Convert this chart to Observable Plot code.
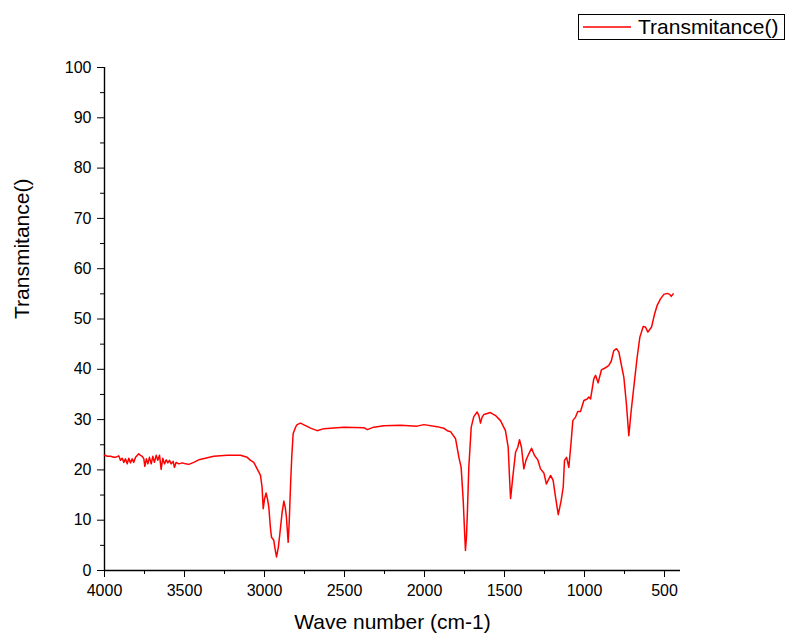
<!DOCTYPE html>
<html>
<head>
<meta charset="utf-8">
<script src="https://cdn.jsdelivr.net/npm/d3@7"></script>
<script src="https://cdn.jsdelivr.net/npm/@observablehq/plot@0.6"></script>
<style>
  html, body { margin: 0; padding: 0; background: #fff; }
  #wrap { position: relative; width: 786px; height: 639px; font-family: "Liberation Sans", Arial, sans-serif; }
  #legend { position: absolute; left: 578px; top: 14px; width: 205px; height: 24px; border: 1px solid #000; background: #fff; box-sizing: content-box; }
  #legend svg { position: absolute; left: 4px; top: 0; }
  #legend span { position: absolute; left: 59px; top: 0px; font-size: 21px; line-height: 24px; color: #000; white-space: nowrap; }
</style>
</head>
<body>
<div id="wrap">
  <div id="chart"></div>
  <div id="legend"><svg width="50" height="24"><line x1="0" x2="48" y1="12" y2="12" stroke="red" stroke-width="1.5"></line></svg><span id="legendText"></span></div>
</div>
<script>
const seriesName = "Transmitance()";
const xLabel = "Wave number (cm-1)";
const yLabel = "Transmitance()";
const xMajorTicks = [4000, 3500, 3000, 2500, 2000, 1500, 1000, 500];
const xMinorTicks = [3750, 3250, 2750, 2250, 1750, 1250, 750];
const yMajorTicks = [0, 10, 20, 30, 40, 50, 60, 70, 80, 90, 100];
const yMinorTicks = [5, 15, 25, 35, 45, 55, 65, 75, 85, 95];

const wavenumber = [
  4000, 3994, 3983, 3962, 3942, 3931, 3911, 3900, 3889, 3879, 3869, 3858, 3848, 3838, 3827, 3817, 3806,
  3786, 3775, 3764, 3754, 3748, 3738, 3729, 3719, 3708, 3698, 3688, 3677, 3667, 3656, 3646, 3636, 3625,
  3614, 3604, 3594, 3583, 3571, 3563, 3552, 3536, 3514, 3494, 3473, 3442, 3411, 3370, 3317, 3233, 3150,
  3108, 3087, 3067, 3046, 3025, 3015, 3008, 3000, 2990, 2980, 2973, 2963, 2956, 2942, 2935, 2925, 2914,
  2904, 2890, 2879, 2870, 2863, 2852, 2845, 2837, 2829, 2821, 2806, 2796, 2775, 2744, 2712, 2671, 2629,
  2504, 2379, 2358, 2317, 2254, 2150, 2046, 2004, 1921, 1880, 1858, 1837, 1806, 1785, 1771, 1758, 1750,
  1744, 1738, 1733, 1723, 1708, 1692, 1671, 1660, 1650, 1640, 1629, 1588, 1556, 1525, 1494, 1477, 1468,
  1462, 1446, 1431, 1417, 1406, 1394, 1379, 1365, 1348, 1331, 1313, 1292, 1275, 1254, 1238, 1212, 1196,
  1181, 1164, 1146, 1133, 1125, 1112, 1098, 1083, 1073, 1056, 1042, 1025, 1004, 983, 973, 962, 942, 931,
  915, 894, 869, 848, 833, 817, 800, 785, 771, 754, 738, 723, 708, 692, 671, 654, 633, 619, 604, 581, 562,
  546, 525, 504, 483, 467, 458, 446
];
const transmitance = [
  22.9, 22.9, 22.7, 22.7, 22.5, 22.5, 22.8, 21.9, 22.3, 21.5, 22.2, 21.2, 22.3, 21.4, 22.2, 21.5, 22.5,
  23.2, 22.9, 22.7, 22.2, 20.7, 22.2, 21.2, 22.5, 21.2, 22.7, 21.5, 22.9, 21.9, 22.9, 20.1, 22.3, 21.2,
  22.0, 21.4, 21.9, 21.2, 21.7, 20.5, 21.5, 21.2, 21.4, 21.2, 21.1, 21.5, 22.0, 22.3, 22.7, 22.9, 22.9,
  22.5, 21.9, 21.5, 20.2, 18.9, 16.5, 12.3, 14.2, 15.4, 14.0, 12.6, 8.5, 6.6, 6.0, 4.5, 2.7, 4.5,
  7.3, 11.5, 13.8, 12.5, 10.6, 5.6, 10.0, 17.2, 23.0, 27.2, 28.5, 29.0, 29.3, 28.8, 28.3, 27.8, 28.2,
  28.5, 28.4, 28.0, 28.5, 28.8, 28.9, 28.7, 29.0, 28.6, 28.3, 27.8, 27.6, 26.2, 22.5, 20.5, 13.9, 8.0,
  4.0, 6.5, 10.6, 20.5, 28.5, 30.6, 31.5, 30.8, 29.3, 30.5, 31.0, 31.4, 30.8, 29.8, 27.8, 24.5, 18.0,
  14.3, 19.2, 23.5, 24.5, 26.0, 24.5, 20.2, 22.0, 23.2, 24.3, 22.9, 22.0, 20.2, 19.4, 17.2, 18.9, 17.9,
  14.6, 11.1, 13.9, 16.6, 21.9, 22.5, 20.5, 25.8, 29.8, 30.5, 31.6, 31.6, 33.8, 34.1, 34.5, 34.1, 38.1, 38.8,
  37.3, 39.9, 40.3, 40.8, 41.6, 43.7, 44.1, 43.4, 41.1, 38.4, 33.1, 26.8, 31.8, 36.4, 42.4, 46.4, 48.5, 48.4, 47.4, 48.4, 51.0,
  52.7, 54.0, 54.9, 55.1, 54.9, 54.5, 55.0
];

const data = wavenumber.map((w, i) => ({wn: w, t: transmitance[i]}));

document.getElementById("legendText").textContent = seriesName;

const chart = Plot.plot({
  width: 786,
  height: 639,
  marginLeft: 104,
  marginRight: 106,
  marginTop: 67,
  marginBottom: 69,
  style: {fontFamily: "'Liberation Sans', Arial, sans-serif", fontSize: "16px", color: "#000", background: "#fff"},
  x: {domain: [4000, 400]},
  y: {domain: [0, 100]},
  marks: [
    Plot.axisX({ticks: xMajorTicks, tickSize: 7, tickPadding: 7, tickFormat: d3.format("d"), fontSize: 16, label: null, stroke: "#000", fill: "#000", strokeOpacity: 1}),
    Plot.axisX({ticks: xMinorTicks, tickSize: 4, tickFormat: () => "", label: null, stroke: "#000", strokeOpacity: 1}),
    Plot.axisY({ticks: yMajorTicks, tickSize: 7, tickPadding: 6, tickFormat: d3.format("d"), fontSize: 16, label: null, stroke: "#000", fill: "#000", strokeOpacity: 1}),
    Plot.axisY({ticks: yMinorTicks, tickSize: 4, tickFormat: () => "", label: null, stroke: "#000", strokeOpacity: 1}),
    Plot.ruleY([0], {stroke: "#000", strokeWidth: 1.4}),
    Plot.ruleX([4000], {stroke: "#000", strokeWidth: 1.4}),
    Plot.line(data, {x: "wn", y: "t", stroke: "red", strokeWidth: 1.5}),
    Plot.text([xLabel], {frameAnchor: "bottom", dy: 58, text: d => d, fontSize: 21, fill: "#000"}),
    Plot.text([yLabel], {frameAnchor: "left", dx: -82, rotate: -90, text: d => d, fontSize: 21, fill: "#000"})
  ]
});
document.getElementById("chart").appendChild(chart);
</script>
</body>
</html>
